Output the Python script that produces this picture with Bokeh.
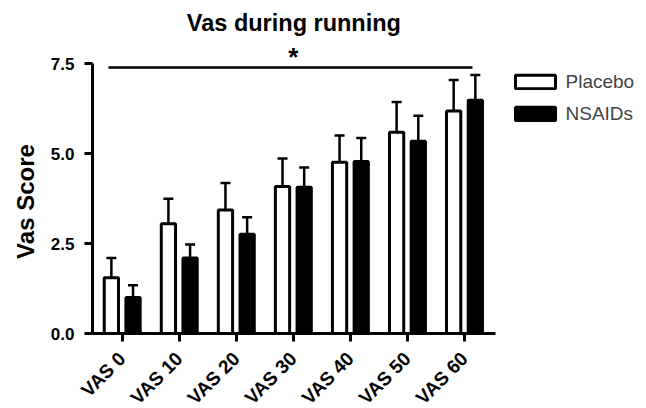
import math
from bokeh.plotting import figure
from bokeh.models import (ColumnDataSource, Whisker, TeeHead, Legend, LegendItem,
                          FixedTicker, PrintfTickFormatter, Range1d, Label, LinearAxis)
from bokeh.core.properties import value
from bokeh.embed import file_html
from bokeh.resources import INLINE

# ---- data ----
title_text = "Vas during running"
y_title = "Vas Score"
groups = ["VAS 0", "VAS 10", "VAS 20", "VAS 30", "VAS 40", "VAS 50", "VAS 60"]
placebo_mean = [1.55, 3.05, 3.43, 4.08, 4.76, 5.59, 6.18]
placebo_err_top = [2.10, 3.74, 4.18, 4.86, 5.50, 6.43, 7.04]
nsaids_mean = [1.00, 2.10, 2.76, 4.06, 4.78, 5.34, 6.48]
nsaids_err_top = [1.34, 2.47, 3.23, 4.61, 5.43, 6.05, 7.18]
y_ticks = [0.0, 2.5, 5.0, 7.5]
series_names = ["Placebo", "NSAIDs"]
sig_from_group = 0
sig_to_group = 6
sig_level = 7.39
sig_mark = "*"

FONT = "Liberation Sans"
idx = list(range(len(groups)))
off = 0.19
bw = 0.25
X0, X1 = -0.5206, 6.54          # x-axis extent (data units)
PX_PER_X = 57.05
PX_PER_Y = 36.0
ZERO_PX = 333                   # screen row of y = 0
FRAME_BOTTOM = 402
FRAME_LEFT = 40
AXIS_PX = 92                    # screen column of the y axis
TITLE_BASELINE_PX = 22.5

src_p = ColumnDataSource(dict(x=[i - off for i in idx], top=placebo_mean, up=placebo_err_top))
src_n = ColumnDataSource(dict(x=[i + off for i in idx], top=nsaids_mean, up=nsaids_err_top))

x_start = X0 - (AXIS_PX - FRAME_LEFT) / PX_PER_X
p = figure(width=646, height=408, output_backend="svg", toolbar_location=None,
           x_range=Range1d(x_start, x_start + (646 - FRAME_LEFT) / PX_PER_X),
           y_range=Range1d(-(FRAME_BOTTOM - ZERO_PX) / PX_PER_Y, ZERO_PX / PX_PER_Y),
           min_border_left=FRAME_LEFT, min_border_right=0, min_border_top=0,
           min_border_bottom=408 - FRAME_BOTTOM)
p.outline_line_color = None
p.xgrid.visible = False
p.ygrid.visible = False
p.background_fill_color = "white"

# chart title (drawn inside the frame, centred over the x axis)
p.text(x=[(X0 + X1) / 2], y=[(ZERO_PX - TITLE_BASELINE_PX) / PX_PER_Y], text=[title_text],
       text_font=value(FONT), text_font_size="23.5px", text_font_style="bold",
       text_align="center", text_baseline="alphabetic", text_color="black")

# error bars (upward only)
for src in (src_p, src_n):
    w = Whisker(source=src, base="x", lower="top", upper="up", dimension="height",
                lower_head=None,
                upper_head=TeeHead(size=10, line_width=2.5, line_color="black"),
                line_width=2.5, line_color="black")
    p.add_layout(w)

r_p = p.vbar(x="x", top="top", width=bw, bottom=0, source=src_p,
             fill_color="white", line_color="black", line_width=3)
r_n = p.vbar(x="x", top="top", width=bw, bottom=0, source=src_n,
             fill_color="black", line_color="black", line_width=3)

# significance bar
p.line(x=[sig_from_group - 0.24, sig_to_group + 0.14], y=[sig_level, sig_level],
       line_color="black", line_width=2.5)
p.add_layout(Label(x=(sig_from_group + sig_to_group) / 2, y=sig_level, y_offset=10,
                   text=sig_mark, text_font=FONT, text_font_size="26px",
                   text_font_style="bold", text_align="center",
                   text_baseline="alphabetic", text_color="black"))

# axes
xa = p.xaxis[0]
xa.fixed_location = 0
xa.ticker = FixedTicker(ticks=idx)
xa.major_label_overrides = {i: g for i, g in zip(idx, groups)}
xa.major_label_orientation = math.pi / 4
xa.bounds = (X0, X1)
ya = p.yaxis[0]
ya.fixed_location = X0
ya.ticker = FixedTicker(ticks=y_ticks)
ya.formatter = PrintfTickFormatter(format="%.1f")
ya.bounds = (0, 7.5)
for a in (xa, ya):
    a.axis_line_width = 3
    a.axis_line_color = "black"
    a.major_tick_line_width = 3
    a.major_tick_line_color = "black"
    a.major_tick_out = 8
    a.major_tick_in = 0
    a.minor_tick_line_color = None
    a.major_label_text_font = FONT
    a.major_label_text_font_style = "bold"
    a.major_label_text_color = "black"
ya.major_label_text_font_size = "17px"
xa.major_label_text_font_size = "19px"
ya.major_label_standoff = 10
xa.major_label_standoff = 14

# y-axis title, carried by a label-only axis in the left border
ylab = LinearAxis(axis_label=y_title, ticker=FixedTicker(ticks=[]),
                  axis_line_color=None, major_tick_line_color=None,
                  minor_tick_line_color=None, axis_label_standoff=2,
                  axis_label_text_font=FONT, axis_label_text_font_size="24px",
                  axis_label_text_font_style="bold", axis_label_text_color="black")
p.add_layout(ylab, "left")

legend = Legend(items=[LegendItem(label=series_names[0], renderers=[r_p]),
                       LegendItem(label=series_names[1], renderers=[r_n])],
                location=(509.5 - FRAME_LEFT, FRAME_BOTTOM - 124.5),
                glyph_width=50, glyph_height=17,
                label_height=22, spacing=10, label_standoff=6,
                label_text_font=FONT, label_text_font_size="19px",
                border_line_color=None, background_fill_alpha=0,
                padding=0, margin=0)
p.add_layout(legend)

open("out.html", "w").write(file_html(p, INLINE))
